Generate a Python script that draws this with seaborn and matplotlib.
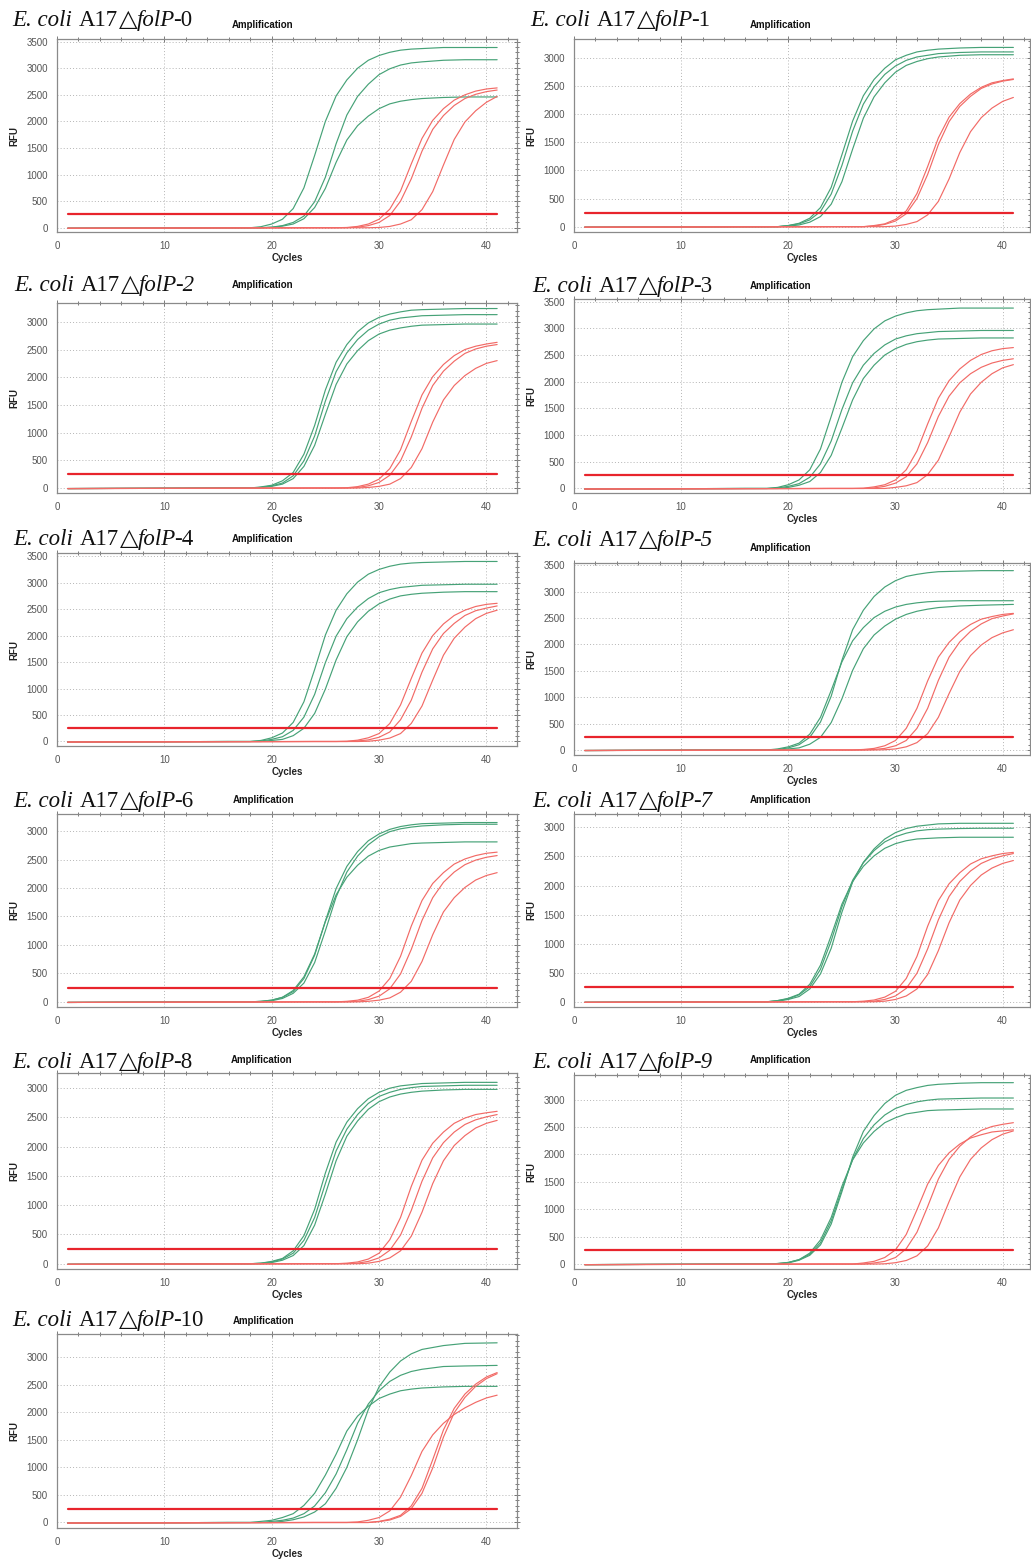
import matplotlib
matplotlib.use("Agg")
import matplotlib.pyplot as plt
from matplotlib.ticker import MultipleLocator
import pandas as pd
import seaborn as sns

# ---------------------------------------------------------------- data
# Cycle numbers at which the fluorescence readings are listed
GREEN_CYCLES = [1, 16, 17, 18, 19, 20, 21, 22, 23, 24, 25, 26, 27, 28, 29, 30,
                31, 32, 33, 34, 36, 38, 41]
RED_CYCLES = [1, 24, 25, 26, 27, 28, 29, 30, 31, 32, 33, 34, 35, 36, 37, 38,
              39, 40, 41]

THRESHOLD = 250
THRESHOLD_CYCLES = [1, 41]

SAMPLE_IDS = [0, 1, 2, 3, 4, 5, 6, 7, 8, 9, 10]

# Reference-gene wells (green), RFU per listed cycle
green_0 = [
    [-10, 0, 0, 0, 20, 70, 160, 360, 750, 1360, 2000, 2480, 2780, 3000, 3150, 3240, 3300, 3340, 3360, 3370, 3390, 3390, 3390],
    [-10, 0, 0, 0, 0, 10, 40, 100, 220, 490, 950, 1580, 2120, 2470, 2700, 2880, 2990, 3060, 3100, 3120, 3150, 3160, 3160],
    [-10, 0, 0, 0, 0, 10, 30, 70, 170, 380, 740, 1230, 1650, 1920, 2100, 2240, 2330, 2380, 2410, 2430, 2450, 2460, 2460],
]
green_1 = [
    [-10, 0, 0, 0, 0, 20, 60, 150, 340, 700, 1280, 1880, 2330, 2620, 2820, 2970, 3050, 3110, 3140, 3160, 3180, 3190, 3190],
    [-10, 0, 0, 0, 0, 20, 50, 120, 270, 580, 1090, 1700, 2180, 2490, 2710, 2860, 2960, 3020, 3050, 3080, 3100, 3110, 3110],
    [-10, 0, 0, 0, 0, 10, 30, 80, 180, 400, 800, 1380, 1930, 2310, 2560, 2750, 2870, 2940, 2990, 3020, 3050, 3060, 3060],
]
green_2 = [
    [-10, 0, 0, 0, 20, 50, 130, 280, 610, 1130, 1770, 2270, 2590, 2820, 2980, 3080, 3140, 3180, 3210, 3220, 3230, 3240, 3240],
    [-10, 0, 0, 0, 10, 40, 90, 220, 490, 940, 1570, 2100, 2440, 2680, 2850, 2960, 3030, 3070, 3090, 3110, 3120, 3130, 3130],
    [-10, 0, 0, 0, 10, 30, 70, 170, 390, 770, 1330, 1870, 2240, 2480, 2660, 2780, 2850, 2890, 2920, 2940, 2950, 2960, 2960],
]
green_3 = [
    [-10, 0, 0, 0, 20, 70, 160, 350, 740, 1350, 1990, 2470, 2770, 2990, 3140, 3230, 3290, 3330, 3350, 3360, 3380, 3380, 3380],
    [-10, 0, 0, 0, 10, 40, 90, 210, 460, 890, 1480, 1980, 2310, 2530, 2690, 2800, 2860, 2900, 2920, 2940, 2950, 2960, 2960],
    [-10, 0, 0, 0, 0, 20, 60, 130, 300, 620, 1130, 1660, 2060, 2310, 2500, 2620, 2700, 2750, 2780, 2800, 2810, 2820, 2820],
]
green_4 = [
    [-10, 0, 0, 0, 20, 70, 160, 360, 750, 1360, 2010, 2480, 2790, 3010, 3160, 3250, 3310, 3350, 3370, 3380, 3390, 3400, 3400],
    [-10, 0, 0, 0, 10, 40, 90, 210, 460, 890, 1490, 1990, 2320, 2540, 2700, 2810, 2870, 2910, 2930, 2950, 2960, 2970, 2970],
    [-10, 0, 0, 0, 0, 20, 40, 110, 250, 530, 990, 1540, 1980, 2260, 2460, 2600, 2690, 2750, 2780, 2800, 2820, 2830, 2830],
]
green_5 = [
    [-10, 0, 0, 0, 10, 40, 100, 240, 530, 1020, 1700, 2280, 2650, 2910, 3090, 3210, 3290, 3330, 3360, 3380, 3390, 3400, 3400],
    [-10, 0, 0, 0, 20, 60, 130, 300, 620, 1130, 1670, 2070, 2320, 2510, 2630, 2710, 2760, 2790, 2810, 2820, 2830, 2830, 2830],
    [-10, 0, 0, 0, 0, 20, 40, 110, 240, 520, 970, 1510, 1920, 2180, 2350, 2480, 2570, 2630, 2670, 2700, 2730, 2745, 2760],
]
green_6 = [
    [-10, 0, 0, 0, 10, 30, 80, 180, 410, 820, 1420, 1990, 2380, 2640, 2830, 2950, 3030, 3080, 3110, 3130, 3140, 3150, 3150],
    [-10, 0, 0, 0, 0, 20, 60, 150, 330, 690, 1250, 1840, 2280, 2560, 2760, 2900, 2990, 3040, 3070, 3090, 3110, 3120, 3120],
    [-10, 0, 0, 0, 10, 30, 80, 200, 440, 840, 1410, 1880, 2190, 2400, 2560, 2660, 2720, 2750, 2780, 2790, 2800, 2810, 2810],
]
green_7 = [
    [-10, 0, 0, 0, 10, 40, 90, 220, 480, 920, 1540, 2060, 2400, 2630, 2800, 2910, 2980, 3020, 3040, 3060, 3070, 3070, 3070],
    [-10, 0, 0, 0, 20, 50, 120, 260, 560, 1050, 1630, 2090, 2390, 2600, 2750, 2840, 2900, 2940, 2960, 2970, 2980, 2985, 2985],
    [-10, 0, 0, 0, 20, 60, 130, 300, 630, 1140, 1680, 2070, 2330, 2510, 2640, 2720, 2770, 2800, 2810, 2820, 2830, 2830, 2830],
]
green_8 = [
    [-10, 0, 0, 0, 10, 40, 90, 220, 480, 930, 1550, 2080, 2420, 2650, 2820, 2930, 3000, 3040, 3060, 3080, 3090, 3100, 3100],
    [-10, 0, 0, 0, 10, 30, 80, 180, 400, 790, 1370, 1930, 2300, 2550, 2740, 2860, 2930, 2980, 3010, 3030, 3040, 3050, 3050],
    [-10, 0, 0, 0, 0, 20, 60, 140, 310, 660, 1190, 1760, 2180, 2440, 2640, 2770, 2850, 2900, 2930, 2950, 2970, 2980, 2980],
]
green_9 = [
    [-10, 0, 0, 0, 0, 20, 70, 160, 350, 730, 1320, 1950, 2420, 2710, 2930, 3080, 3170, 3220, 3260, 3280, 3300, 3310, 3310],
    [-10, 0, 0, 0, 10, 30, 80, 180, 390, 790, 1360, 1910, 2290, 2540, 2720, 2840, 2910, 2960, 2990, 3010, 3020, 3030, 3030],
    [-10, 0, 0, 0, 10, 30, 80, 200, 440, 850, 1420, 1900, 2210, 2420, 2580, 2670, 2740, 2770, 2800, 2810, 2820, 2830, 2830],
]
green_10 = [
    [-10, 0, 0, 0, 0, 0, 20, 50, 100, 190, 340, 620, 1000, 1500, 2050, 2460, 2730, 2930, 3060, 3140, 3210, 3250, 3260],
    [-10, 0, 0, 0, 0, 20, 40, 80, 160, 300, 540, 880, 1320, 1800, 2150, 2390, 2560, 2670, 2740, 2780, 2830, 2840, 2850],
    [-10, 0, 0, 0, 20, 40, 90, 160, 310, 530, 860, 1240, 1660, 1930, 2110, 2250, 2330, 2390, 2420, 2440, 2460, 2470, 2470],
]

# Target-gene wells (red), RFU per listed cycle
red_0 = [
    [-10, 0, 0, 0, 5, 25, 70, 160, 350, 690, 1200, 1680, 2020, 2240, 2400, 2500, 2570, 2610, 2630],
    [-10, 0, 0, 0, 0, 10, 40, 100, 230, 500, 920, 1440, 1850, 2110, 2300, 2430, 2510, 2560, 2590],
    [-10, 0, 0, 0, 0, 0, 0, 5, 25, 70, 150, 340, 680, 1180, 1660, 1990, 2200, 2360, 2470],
]
red_1 = [
    [-10, 0, 0, 0, 0, 20, 50, 130, 280, 590, 1070, 1580, 1950, 2190, 2360, 2480, 2560, 2600, 2630],
    [-10, 0, 0, 0, 0, 10, 40, 100, 230, 500, 930, 1460, 1870, 2140, 2320, 2460, 2540, 2590, 2620],
    [-10, 0, 0, 0, 0, 0, 0, 10, 40, 90, 210, 450, 850, 1320, 1690, 1940, 2110, 2230, 2300],
]
red_2 = [
    [-10, 0, 0, 0, 5, 25, 70, 160, 350, 690, 1200, 1680, 2010, 2230, 2390, 2500, 2560, 2600, 2630],
    [-10, 0, 0, 0, 0, 10, 40, 100, 230, 490, 920, 1440, 1850, 2110, 2290, 2430, 2510, 2560, 2590],
    [-10, 0, 0, 0, 0, 0, 10, 30, 70, 170, 370, 710, 1190, 1590, 1850, 2030, 2160, 2250, 2300],
]
red_3 = [
    [-10, 0, 0, 0, 5, 30, 70, 160, 350, 700, 1210, 1690, 2020, 2240, 2400, 2510, 2580, 2620, 2640],
    [-10, 0, 0, 0, 0, 10, 40, 100, 220, 460, 860, 1350, 1730, 1980, 2150, 2270, 2350, 2400, 2430],
    [-10, 0, 0, 0, 0, 0, 0, 20, 50, 110, 260, 530, 970, 1430, 1770, 1990, 2150, 2260, 2320],
]
red_4 = [
    [-10, 0, 0, 0, 5, 25, 70, 150, 340, 690, 1190, 1670, 2000, 2220, 2380, 2480, 2550, 2590, 2610],
    [-10, 0, 0, 0, 0, 10, 30, 80, 180, 410, 780, 1310, 1750, 2040, 2230, 2380, 2470, 2520, 2560],
    [-10, 0, 0, 0, 0, 0, 5, 25, 65, 150, 340, 670, 1160, 1630, 1950, 2160, 2320, 2420, 2480],
]
red_5 = [
    [-10, 0, 0, 0, 10, 30, 80, 180, 410, 790, 1310, 1760, 2040, 2240, 2380, 2480, 2530, 2570, 2590],
    [-10, 0, 0, 0, 0, 10, 30, 80, 180, 410, 790, 1320, 1760, 2050, 2250, 2390, 2490, 2540, 2580],
    [-10, 0, 0, 0, 0, 0, 5, 20, 60, 140, 310, 620, 1070, 1490, 1790, 1990, 2130, 2220, 2280],
]
red_6 = [
    [-10, 0, 0, 0, 10, 30, 80, 190, 410, 800, 1330, 1780, 2080, 2270, 2420, 2510, 2570, 2610, 2630],
    [-10, 0, 0, 0, 0, 10, 40, 100, 230, 490, 920, 1430, 1830, 2100, 2280, 2410, 2490, 2540, 2570],
    [-10, 0, 0, 0, 0, 0, 10, 30, 70, 170, 360, 710, 1180, 1580, 1830, 2010, 2140, 2220, 2270],
]
red_7 = [
    [-10, 0, 0, 0, 10, 30, 80, 180, 400, 780, 1300, 1740, 2030, 2220, 2370, 2460, 2510, 2550, 2570],
    [-10, 0, 0, 0, 0, 10, 40, 100, 230, 490, 910, 1410, 1810, 2070, 2250, 2380, 2460, 2510, 2550],
    [-10, 0, 0, 0, 0, 0, 10, 40, 100, 220, 470, 880, 1360, 1750, 2000, 2180, 2300, 2380, 2430],
]
red_8 = [
    [-10, 0, 0, 0, 10, 30, 80, 180, 410, 790, 1320, 1770, 2060, 2250, 2400, 2490, 2550, 2580, 2605],
    [-10, 0, 0, 0, 0, 10, 40, 100, 230, 490, 910, 1410, 1810, 2070, 2250, 2380, 2460, 2510, 2550],
    [-10, 0, 0, 0, 0, 0, 10, 40, 100, 220, 470, 880, 1370, 1760, 2020, 2190, 2320, 2400, 2450],
]
red_9 = [
    [-10, 0, 0, 0, 20, 50, 120, 260, 540, 990, 1460, 1800, 2030, 2190, 2300, 2360, 2410, 2430, 2450],
    [-10, 0, 0, 0, 0, 20, 50, 120, 280, 580, 1050, 1550, 1910, 2150, 2320, 2440, 2510, 2550, 2580],
    [-10, 0, 0, 0, 0, 0, 5, 25, 65, 150, 330, 660, 1140, 1590, 1910, 2120, 2270, 2370, 2430],
]
red_10 = [
    [-10, 0, 0, 0, 0, 0, 0, 20, 60, 130, 300, 620, 1140, 1680, 2070, 2330, 2510, 2640, 2720],
    [-10, 0, 0, 0, 0, 0, 0, 15, 45, 110, 250, 530, 990, 1550, 1990, 2270, 2470, 2610, 2700],
    [-10, 0, 0, 0, 0, 10, 40, 90, 210, 460, 850, 1290, 1590, 1800, 1960, 2080, 2180, 2260, 2310],
]

GREEN_SETS = [green_0, green_1, green_2, green_3, green_4, green_5,
              green_6, green_7, green_8, green_9, green_10]
RED_SETS = [red_0, red_1, red_2, red_3, red_4, red_5,
            red_6, red_7, red_8, red_9, red_10]

# ---------------------------------------------------------------- layout
W, H = 1031, 1562
# plot frame per panel in pixels: left, top, right, bottom
FRAMES = [
    (57, 39, 517, 232), (574, 39, 1030, 232),
    (57, 303, 517, 493), (574, 299, 1030, 493),
    (57, 553, 517, 746), (574, 563, 1030, 755),
    (57, 814, 517, 1007), (574, 814, 1030, 1007),
    (57, 1073, 517, 1269), (574, 1075, 1030, 1269),
    (57, 1334, 517, 1528),
]
Y_LIMITS = [(-80, 3550), (-95, 3340), (-90, 3340), (-85, 3550), (-85, 3560),
            (-95, 3545), (-90, 3300), (-90, 3230), (-90, 3260), (-90, 3450),
            (-100, 3420)]
# title: left x, baseline y (pixels); "Amplification": left x, centre y
TITLE_POS = [(12, 26), (530, 26), (14, 291), (532, 292), (13, 545), (532, 546),
             (13, 807), (532, 807), (12, 1068), (532, 1068), (12, 1326)]
AMP_POS = [(232, 25), (750, 25), (232, 285), (750, 286), (232, 539), (750, 548),
           (233, 800), (750, 800), (231, 1060), (750, 1060), (233, 1321)]
ITALIC_SUFFIX = {2, 5, 7, 9}

GREEN = "#46a277"
RED = "#f26a66"
THRESH_RED = "#e8242c"
SANS = ["Liberation Sans", "DejaVu Sans"]
SERIF = ["Liberation Serif", "DejaVu Serif"]

sns.set_style("white")
plt.rcParams["font.family"] = SANS

fig = plt.figure(figsize=(W / 100, H / 100), dpi=100)
fig.patch.set_facecolor("white")
renderer = fig.canvas.get_renderer()


def px_box(left, top, right, bottom):
    return [left / W, 1 - bottom / H, (right - left) / W, (bottom - top) / H]


def long_frame(sets, cycles, tag):
    rows = []
    for j, series in enumerate(sets):
        for c, v in zip(cycles, series):
            rows.append((c, v, f"{tag}{j}"))
    return rows


def write_title(x_px, base_px, number, italic_num):
    pieces = [
        ("E. coli", "italic", SERIF, 16.5, 7),
        ("A17", "normal", SERIF, 16.5, 1),
        ("\u25b3", "normal", ["DejaVu Sans"], 17.5, -1),
        ("folP", "italic", SERIF, 16.5, -2),
        ("-" + str(number), "italic" if italic_num else "normal", SERIF, 16.5, 0),
    ]
    x = x_px
    for text, style, fam, size, gap in pieces:
        t = fig.text(x / W, 1 - base_px / H, text, fontsize=size, fontstyle=style,
                     family=fam, ha="left", va="baseline", color="#111111")
        x += t.get_window_extent(renderer).width + gap


for k, sid in enumerate(SAMPLE_IDS):
    left, top, right, bottom = FRAMES[k]
    ax = fig.add_axes(px_box(left, top, right, bottom))

    rows = long_frame(GREEN_SETS[k], GREEN_CYCLES, "g") + long_frame(RED_SETS[k], RED_CYCLES, "r")
    df = pd.DataFrame(rows, columns=["cycle", "rfu", "well"])
    palette = {w: (GREEN if w.startswith("g") else RED) for w in df["well"].unique()}
    sns.lineplot(data=df, x="cycle", y="rfu", hue="well", palette=palette,
                 estimator=None, sort=False, legend=False, linewidth=0.85, ax=ax)
    sns.lineplot(x=THRESHOLD_CYCLES, y=[THRESHOLD] * len(THRESHOLD_CYCLES),
                 color=THRESH_RED, linewidth=1.6, ax=ax)

    ax.set_xlim(0, 42.85 if left < 300 else 42.55)
    ax.set_ylim(*Y_LIMITS[k])
    ax.xaxis.set_major_locator(MultipleLocator(10))
    ax.xaxis.set_minor_locator(MultipleLocator(2))
    ax.yaxis.set_major_locator(MultipleLocator(500))
    ax.yaxis.set_minor_locator(MultipleLocator(100))
    ax.grid(which="major", linestyle=(0, (1, 2.2)), color="#b4b4b4", linewidth=0.7)
    ax.tick_params(which="both", direction="inout", top=True, right=True,
                   color="#666666", width=0.6, labelsize=7, labelcolor="#555555")
    ax.tick_params(which="major", length=5, pad=4)
    ax.tick_params(which="minor", length=3)
    ax.set_xlabel("")
    ax.set_ylabel("")
    for sp in ax.spines.values():
        sp.set_color("#8a8a8a")
        sp.set_linewidth(0.9)

    # axis captions
    fig.text((left - 43) / W, 1 - (top + bottom) / 2 / H, "RFU", rotation=90,
             fontsize=7, fontweight="bold", ha="center", va="center", color="#222222")
    fig.text((left + right) / 2 / W, 1 - (bottom + 26) / H, "Cycles",
             fontsize=7, fontweight="bold", ha="center", va="center", color="#222222")

    tx, tb = TITLE_POS[k]
    write_title(tx, tb, sid, sid in ITALIC_SUFFIX)
    axp, ayp = AMP_POS[k]
    fig.text(axp / W, 1 - ayp / H, "Amplification", fontsize=7, fontweight="bold",
             ha="left", va="center", color="#111111")

fig.savefig("out.png", dpi=100, facecolor="white")
